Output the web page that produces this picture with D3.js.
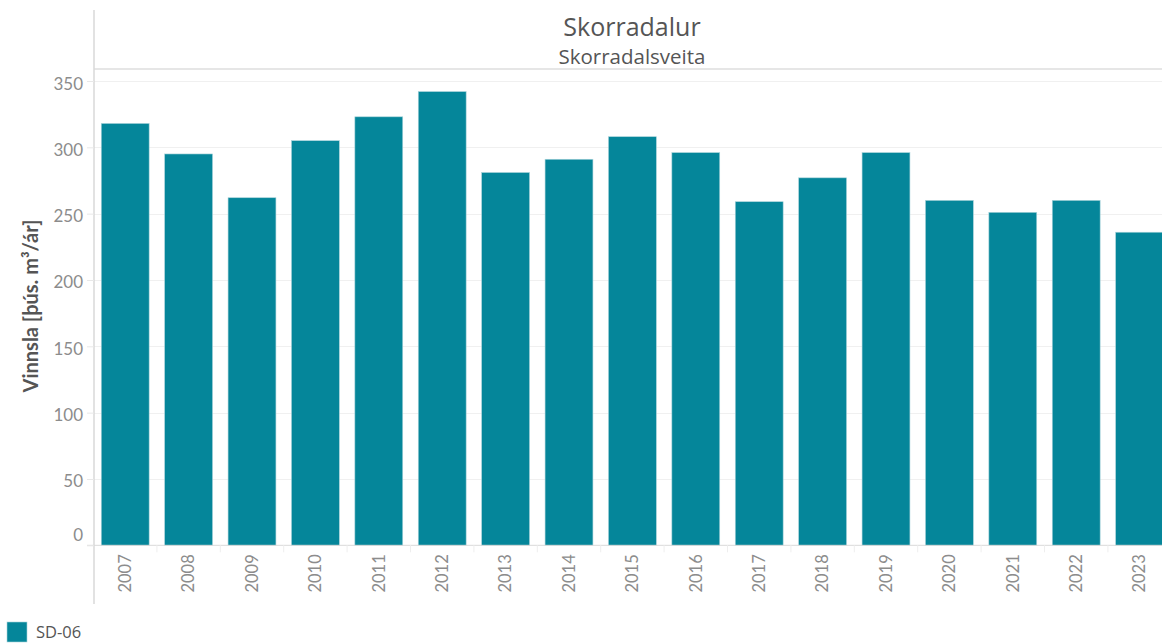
<!DOCTYPE html>
<html>
<head>
<meta charset="utf-8">
<script src="https://cdn.jsdelivr.net/npm/d3@7"></script>
<style>
  body { margin: 0; background: #fff; }
  svg { display: block; font-family: Lato, "Open Sans", sans-serif; }
</style>
</head>
<body>
<svg id="drawing_region"></svg>
<script>
// chart data
const years = ["2007","2008","2009","2010","2011","2012","2013","2014","2015","2016","2017","2018","2019","2020","2021","2022","2023"];
const vinnsla = [318, 295, 262, 305, 323, 342, 281, 291, 308, 296, 259, 277, 296, 260, 251, 260, 236];
const yTicks = [0, 50, 100, 150, 200, 250, 300, 350];
const seriesName = "SD-06";

const config = {
    parent: '#drawing_region',
    width: 1162,
    height: 644,
};

const barColor = "#05869a";

const svg = d3.select(config.parent)
    .attr('width', config.width)
    .attr('height', config.height);

const plotLeft = 94, plotTop = 69, baseY = 545.3;

const x = d3.scaleBand()
    .domain(years)
    .range([93.5, 93.5 + 63.4 * years.length])
    .paddingInner(0.245)
    .paddingOuter(0.1225);

const y = d3.scaleLinear()
    .domain([0, 350])
    .range([baseY, 81]);

// gridlines
svg.append('g')
    .selectAll('line')
    .data(yTicks.filter(d => d > 0))
    .join('line')
    .attr('x1', plotLeft).attr('x2', config.width)
    .attr('y1', d => Math.round(y(d)) + 0.5).attr('y2', d => Math.round(y(d)) + 0.5)
    .attr('stroke', '#f0f0f0')
    .attr('stroke-width', 1);

// header separator line
svg.append('line')
    .attr('x1', plotLeft).attr('x2', config.width)
    .attr('y1', plotTop).attr('y2', plotTop)
    .attr('stroke', '#dedede').attr('stroke-width', 1.5);

// bars
svg.append('g')
    .selectAll('rect')
    .data(vinnsla)
    .join('rect')
    .attr('x', (d, i) => x(years[i]))
    .attr('y', d => y(d))
    .attr('width', x.bandwidth())
    .attr('height', d => baseY - y(d))
    .attr('fill', barColor)
    .attr('stroke', '#a9d3da')
    .attr('stroke-width', 0.6);

// baseline
svg.append('line')
    .attr('x1', 87).attr('x2', config.width)
    .attr('y1', baseY).attr('y2', baseY)
    .attr('stroke', '#d9d9d9').attr('stroke-width', 1);

// vertical axis line
svg.append('line')
    .attr('x1', plotLeft).attr('x2', plotLeft)
    .attr('y1', 10).attr('y2', 604)
    .attr('stroke', '#d9d9d9').attr('stroke-width', 1.5);

// y axis
const yAxis = d3.axisLeft(y)
    .tickValues(yTicks)
    .tickSize(7)
    .tickPadding(4);

const yg = svg.append('g')
    .attr('transform', `translate(${plotLeft},0)`)
    .call(yAxis);
yg.select('.domain').remove();
yg.selectAll('line').attr('stroke', '#e8e8e8');
yg.selectAll('text')
    .attr('fill', '#8c8c8c')
    .attr('font-size', 17)
    .attr('font-family', 'Lato, sans-serif')
    .attr('dy', d => d === 0 ? '-0.3em' : '0.47em');

// x axis separators between categories
const sepX = years.slice(1).map(d => x(d) - x.step() * x.paddingInner() / 2);
svg.append('g')
    .selectAll('line')
    .data(sepX)
    .join('line')
    .attr('x1', d => d).attr('x2', d => d)
    .attr('y1', baseY).attr('y2', baseY + 7)
    .attr('stroke', '#eeeeee');

// x axis labels
const xAxis = d3.axisBottom(x).tickSize(0);
const xg = svg.append('g')
    .attr('transform', `translate(0,${baseY})`)
    .call(xAxis);
xg.select('.domain').remove();
xg.selectAll('text')
    .attr('fill', '#8c8c8c')
    .attr('font-size', 16.5)
    .attr('font-family', 'Lato, sans-serif')
    .attr('transform', 'rotate(-90)')
    .attr('text-anchor', 'end')
    .attr('x', -9)
    .attr('y', 0)
    .attr('dy', '0.35em');

// titles
svg.append('text')
    .attr('x', 632).attr('y', 36)
    .attr('text-anchor', 'middle')
    .attr('fill', '#555')
    .attr('font-family', '"Open Sans", sans-serif')
    .attr('font-size', 25)
    .text('Skorradalur');

svg.append('text')
    .attr('x', 632).attr('y', 64)
    .attr('text-anchor', 'middle')
    .attr('fill', '#555')
    .attr('font-family', '"Open Sans", sans-serif')
    .attr('font-size', 20.5)
    .text('Skorradalsveita');

// y axis title
svg.append('text')
    .attr('transform', 'translate(38,306) rotate(-90)')
    .attr('text-anchor', 'middle')
    .attr('fill', '#555')
    .attr('font-size', 20)
    .attr('font-weight', 'bold')
    .text('Vinnsla [þús. m³/ár]');

// legend
const legend = svg.append('g').attr('transform', 'translate(7,622)');
legend.append('rect')
    .attr('width', 20).attr('height', 20)
    .attr('fill', barColor)
    .attr('stroke', '#a9d3da').attr('stroke-width', 0.6);
legend.append('text')
    .attr('x', 29).attr('y', 15.5)
    .attr('fill', '#555')
    .attr('font-family', '"Open Sans", sans-serif')
    .attr('font-size', 16.5)
    .text(seriesName);
</script>
</body>
</html>
